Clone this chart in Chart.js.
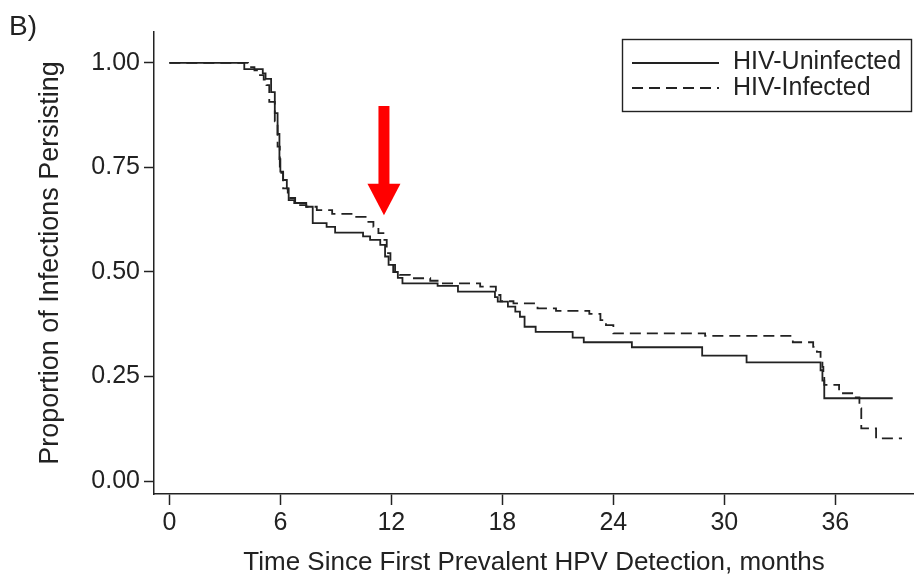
<!DOCTYPE html>
<html>
<head>
<meta charset="utf-8">
<script src="https://cdn.jsdelivr.net/npm/chart.js@4.4.1/dist/chart.umd.min.js"></script>
<style>
  body { margin: 0; background: #fff; }
  #wrap { width: 914px; height: 583px; }
</style>
</head>
<body>
<div id="wrap"><canvas id="kmChart" width="914" height="583"></canvas></div>
<script>
// Kaplan-Meier estimates
var uninfectedMonths = [0, 4.05, 5.05, 5.2, 5.5, 5.7, 5.85, 5.95, 6.0, 6.15, 6.35, 6.45, 6.75, 7.4, 7.75, 8.5, 8.96,
  10.47, 10.85, 11.4, 11.66, 11.85, 12.1, 12.35, 12.6, 14.5, 15.6, 17.6, 17.75, 18.3, 18.7, 18.95, 19.2, 19.8,
  21.8, 22.4, 25.0, 28.8, 31.2, 35.2, 35.3, 35.4, 39.1];
var uninfectedSurv = [1.00, 0.985, 0.975, 0.962, 0.93, 0.88, 0.83, 0.77, 0.74, 0.72, 0.70, 0.672, 0.665, 0.656, 0.617, 0.608, 0.594,
  0.585, 0.577, 0.565, 0.537, 0.517, 0.50, 0.486, 0.473, 0.467, 0.453, 0.44, 0.429, 0.417, 0.405, 0.393, 0.369, 0.357,
  0.343, 0.332, 0.32, 0.30, 0.284, 0.265, 0.24, 0.198, 0.198];

var infectedMonths = [0, 4.25, 4.6, 4.9, 5.1, 5.25, 5.4, 5.7, 5.85, 5.97, 6.15, 6.4, 6.8, 7.4, 7.97, 8.8, 10.1,
  10.67, 11.03, 11.3, 11.57, 11.75, 11.95, 12.2, 12.45, 13.0, 14.1, 14.5, 16.8, 17.65, 17.9, 18.6, 19.9,
  20.9, 22.7, 23.3, 23.6, 24.0, 28.96, 33.7, 34.8, 35.0, 35.2, 35.3, 35.35, 35.4, 36.2, 36.97, 37.3, 37.4, 38.2, 39.6];
var infectedSurv = [1.00, 0.99, 0.982, 0.971, 0.96, 0.947, 0.907, 0.86, 0.80, 0.737, 0.70, 0.677, 0.66, 0.656, 0.648, 0.639, 0.632,
  0.62, 0.608, 0.593, 0.577, 0.545, 0.517, 0.50, 0.493, 0.485, 0.479, 0.473, 0.465, 0.445, 0.43, 0.425, 0.413,
  0.407, 0.40, 0.385, 0.373, 0.353, 0.347, 0.332, 0.321, 0.309, 0.294, 0.273, 0.254, 0.23, 0.21, 0.20, 0.174, 0.126, 0.102, 0.102];

var xTicks = [0, 6, 12, 18, 24, 30, 36];
var yTicks = [0, 0.25, 0.5, 0.75, 1.0];
var seriesLabels = ['HIV-Uninfected', 'HIV-Infected'];

// arrow marking the 12-month visit
var arrowMonth = 11.6;
var arrowTop = 0.897, arrowHead = 0.711, arrowTip = 0.636;

var ink = '#222222';
var fontFam = '"Liberation Sans", Arial, Helvetica, sans-serif';

function toPoints(xs, ys) {
  var pts = [];
  for (var i = 0; i < xs.length; i++) pts.push({x: xs[i], y: ys[i]});
  return pts;
}

var extras = {
  id: 'extras',
  afterDraw: function(chart) {
    var ctx = chart.ctx;
    var xs = chart.scales.x, ys = chart.scales.y;
    ctx.save();

    // panel letter
    ctx.fillStyle = ink;
    ctx.font = '28px ' + fontFam;
    ctx.textAlign = 'left';
    ctx.textBaseline = 'alphabetic';
    ctx.fillText('B)', 9, 35);

    // legend
    ctx.strokeStyle = ink;
    ctx.lineWidth = 1.4;
    ctx.strokeRect(622.5, 39.5, 289, 72);
    ctx.lineWidth = 1.8;
    ctx.beginPath(); ctx.moveTo(632, 63); ctx.lineTo(719, 63); ctx.stroke();
    ctx.setLineDash([11, 6]);
    ctx.beginPath(); ctx.moveTo(632, 88); ctx.lineTo(719, 88); ctx.stroke();
    ctx.setLineDash([]);
    ctx.font = '25px ' + fontFam;
    ctx.textBaseline = 'middle';
    ctx.fillText(seriesLabels[0], 733, 62);
    ctx.fillText(seriesLabels[1], 733, 88);

    // red arrow
    var cx = xs.getPixelForValue(arrowMonth);
    var yTop = ys.getPixelForValue(arrowTop);
    var yHead = ys.getPixelForValue(arrowHead);
    var yTip = ys.getPixelForValue(arrowTip);
    ctx.fillStyle = '#ff0000';
    ctx.fillRect(cx - 5.5, yTop, 11, yHead - yTop + 1);
    ctx.beginPath();
    ctx.moveTo(cx - 16.5, yHead);
    ctx.lineTo(cx + 16.5, yHead);
    ctx.lineTo(cx, yTip);
    ctx.closePath();
    ctx.fill();
    ctx.restore();
  }
};

var ctx = document.getElementById('kmChart');
var kmChart = new Chart(ctx, {
  type: 'line',
  data: {
    datasets: [
      {
        label: seriesLabels[0],
        data: toPoints(uninfectedMonths, uninfectedSurv),
        borderColor: ink,
        borderWidth: 1.8,
        stepped: true,
        pointRadius: 0,
        fill: false
      },
      {
        label: seriesLabels[1],
        data: toPoints(infectedMonths, infectedSurv),
        borderColor: ink,
        borderWidth: 1.8,
        borderDash: [11, 6],
        stepped: true,
        pointRadius: 0,
        fill: false
      }
    ]
  },
  options: {
    responsive: false,
    animation: false,
    devicePixelRatio: 1,
    layout: { padding: { top: 32, left: 0, right: 0, bottom: 0 } },
    plugins: { legend: { display: false }, tooltip: { enabled: false } },
    scales: {
      x: {
        type: 'linear',
        min: -0.83,
        max: 40.25,
        afterBuildTicks: function(scale) {
          scale.ticks = xTicks.map(function(v) { return {value: v}; });
        },
        afterFit: function(scale) { scale.height = 89; },
        grid: { display: true, drawOnChartArea: false, drawTicks: true, tickLength: 11, color: ink, tickWidth: 1.5 },
        border: { display: true, color: ink, width: 1.5 },
        ticks: { color: ink, font: { family: fontFam, size: 25 }, padding: 3, maxRotation: 0,
          callback: function(v) { return String(v); } },
        title: { display: true, text: 'Time Since First Prevalent HPV Detection, months',
          color: ink, font: { family: fontFam, size: 26 }, padding: { top: 0, bottom: 5 } }
      },
      y: {
        type: 'linear',
        min: -0.031,
        max: 1.074,
        afterBuildTicks: function(scale) {
          scale.ticks = yTicks.map(function(v) { return {value: v}; });
        },
        afterFit: function(scale) { scale.width = 154; },
        grid: { display: true, drawOnChartArea: false, drawTicks: true, tickLength: 10, color: ink, tickWidth: 1.5 },
        border: { display: true, color: ink, width: 1.5 },
        ticks: { color: ink, font: { family: fontFam, size: 25 }, padding: 4,
          callback: function(v) { return Number(v).toFixed(2); } },
        title: { display: true, text: 'Proportion of Infections Persisting',
          color: ink, font: { family: fontFam, size: 27 }, padding: { top: 34, bottom: 0 } }
      }
    }
  },
  plugins: [extras]
});
</script>
</body>
</html>
